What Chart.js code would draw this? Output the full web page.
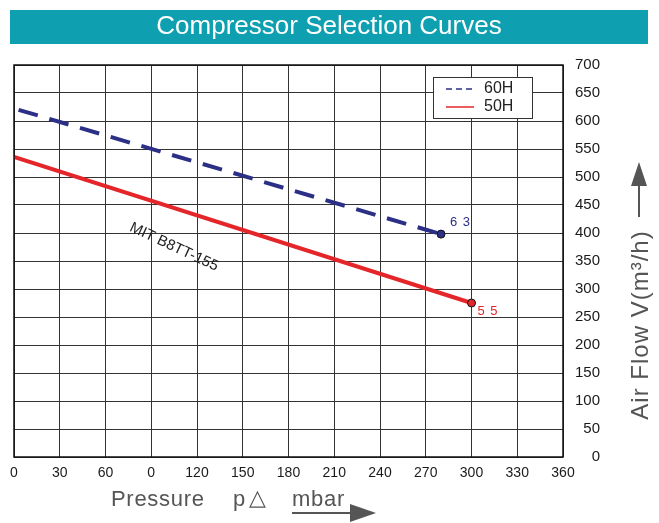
<!DOCTYPE html>
<html>
<head>
<meta charset="utf-8">
<script src="https://cdn.jsdelivr.net/npm/chart.js@4/dist/chart.umd.min.js"></script>
<style>
html,body{margin:0;padding:0;background:#fff;}
#wrap{width:659px;height:523px;position:relative;}
</style>
</head>
<body>
<div id="wrap"><canvas id="c" width="659" height="523"></canvas></div>
<script>
// ---- data ----
const xTickLabels = ['0','30','60','0','120','150','180','210','240','270','300','330','360'];
const seriesNames = ['60H','50H'];
const series60x = [3, 280];
const series60y = [620, 398];
const series50x = [0, 300];
const series50y = [536, 275];
const endLabels = ['6 3','5 5'];
const curveName = 'MIT B8TT-155';
const titleText = 'Compressor Selection Curves';

const navy = '#2b2f85';
const red = '#e4262b';
const FONT = "'Liberation Sans', Arial, sans-serif";

function pts(xs, ys){ return xs.map((x,i)=>({x:x,y:ys[i]})); }

const decor = {
  id:'decor',
  beforeDraw(chart){
    const c = chart.ctx;
    c.save();
    c.fillStyle='#fff';
    c.fillRect(0,0,chart.width,chart.height);
    c.fillStyle='#0ea0b0';
    c.fillRect(10,10,638,34);
    c.fillStyle='#fff';
    c.font = "26px "+FONT;
    c.textAlign='center'; c.textBaseline='middle';
    c.fillText(titleText, 329, 27);
    c.restore();
  },
  afterDraw(chart){
    const c = chart.ctx;
    const xs = chart.scales.x, ys = chart.scales.y;
    const a = chart.chartArea;
    c.save();
    c.strokeStyle='#111'; c.lineWidth=1.5;
    c.strokeRect(a.left, a.top, a.right-a.left, a.bottom-a.top);
    // end labels
    c.font = "13px "+FONT; c.textBaseline='middle'; c.textAlign='left';
    c.letterSpacing='1px';
    c.fillStyle=navy;
    c.fillText(endLabels[0], xs.getPixelForValue(series60x[1])+9, ys.getPixelForValue(series60y[1])-12);
    c.fillStyle=red;
    c.fillText(endLabels[1], xs.getPixelForValue(series50x[1])+6, ys.getPixelForValue(series50y[1])+8);
    c.letterSpacing='0px';
    // curve name
    c.save();
    c.translate(174,247);
    c.rotate(25*Math.PI/180);
    c.fillStyle='#222'; c.font="15px "+FONT; c.textAlign='center';
    c.fillText(curveName,0,0);
    c.restore();
    // legend
    c.fillStyle='#fff'; c.fillRect(433,77,99,41);
    c.strokeStyle='#333'; c.lineWidth=1; c.strokeRect(433.5,77.5,99,41);
    c.lineWidth=1.5;
    c.strokeStyle=navy; c.setLineDash([6,4]);
    c.beginPath(); c.moveTo(446,89); c.lineTo(474,89); c.stroke();
    c.setLineDash([]);
    c.strokeStyle=red;
    c.beginPath(); c.moveTo(446,107); c.lineTo(474,107); c.stroke();
    c.fillStyle='#222'; c.font="16px "+FONT; c.textAlign='left'; c.textBaseline='middle';
    c.fillText(seriesNames[0],484,89);
    c.fillText(seriesNames[1],484,107);
    // x axis title
    c.fillStyle='#555'; c.font="22px "+FONT; c.textBaseline='middle';
    c.letterSpacing='0.7px';
    c.fillText('Pressure',111,500);
    c.fillText('p',233,500);
    c.fillText('\u25B3',249,499);
    c.fillText('mbar',292,500);
    c.letterSpacing='0px';
    c.strokeStyle='#555'; c.lineWidth=2;
    c.beginPath(); c.moveTo(292,513); c.lineTo(355,513); c.stroke();
    c.beginPath(); c.moveTo(350,504); c.lineTo(376,513); c.lineTo(350,522); c.closePath(); c.fill();
    // y axis title
    c.save();
    c.translate(641,325); c.rotate(-Math.PI/2);
    c.textAlign='center'; c.font="24px "+FONT;
    c.letterSpacing='1px';
    c.fillText('Air Flow V(m\u00B3/h)',0,0);
    c.restore();
    c.lineWidth=2;
    c.beginPath(); c.moveTo(639,217); c.lineTo(639,180); c.stroke();
    c.beginPath(); c.moveTo(631,186); c.lineTo(639,162); c.lineTo(647,186); c.closePath(); c.fill();
    c.restore();
  }
};

new Chart(document.getElementById('c'), {
  type:'line',
  data:{
    datasets:[
      {label:seriesNames[0], data:pts(series60x,series60y), borderColor:navy, backgroundColor:navy,
       borderWidth:4, borderDash:[20,12], pointRadius:[0,4], pointBorderColor:'#111', pointBorderWidth:1, pointBackgroundColor:navy, fill:false},
      {label:seriesNames[1], data:pts(series50x,series50y), borderColor:red, backgroundColor:red,
       borderWidth:4, pointRadius:[0,4], pointBorderColor:'#111', pointBorderWidth:1, pointBackgroundColor:red, fill:false}
    ]
  },
  options:{
    responsive:false, animation:false,
    layout:{padding:{left:14, top:65, right:59, bottom:0}},
    plugins:{legend:{display:false}, tooltip:{enabled:false}},
    scales:{
      x:{type:'linear', min:0, max:360,
         grid:{color:'#333', lineWidth:1, drawTicks:false},
         border:{display:false},
         ticks:{stepSize:30, padding:8, color:'#1a1a1a', font:{family:FONT, size:14},
                callback:(v,i)=>xTickLabels[i]},
         afterFit:(s)=>{s.height=66;}},
      y:{type:'linear', position:'right', min:0, max:700,
         grid:{color:'#333', lineWidth:1, drawTicks:false},
         border:{display:false},
         ticks:{stepSize:50, padding:6, crossAlign:'far', color:'#1a1a1a', font:{family:FONT, size:15}},
         afterFit:(s)=>{s.width=37;}}
    }
  },
  plugins:[decor]
});
</script>
</body>
</html>
